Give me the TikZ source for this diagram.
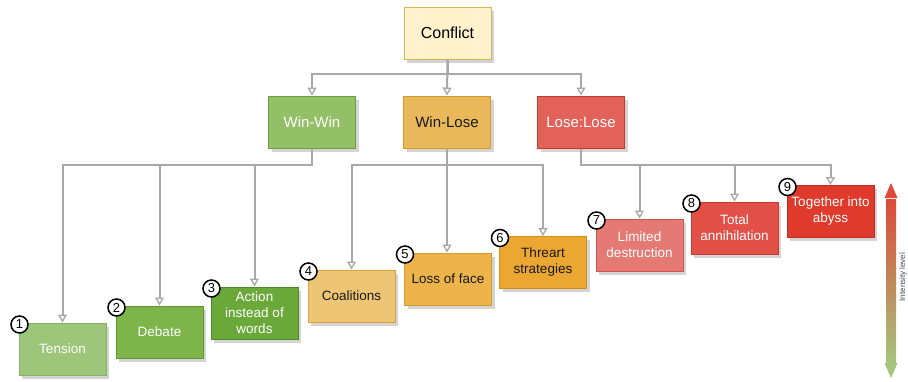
\documentclass[tikz,border=0pt]{standalone}
\usepackage{fontspec}
\setmainfont{Liberation Sans}
\usetikzlibrary{arrows.meta,calc}
\definecolor{cfF}{HTML}{FFF2CC}\definecolor{cfD}{HTML}{D6B656}
\definecolor{wwF}{HTML}{93BF66}\definecolor{wwD}{HTML}{6D9E3F}
\definecolor{wlF}{HTML}{E9B85A}\definecolor{wlD}{HTML}{D49A2E}
\definecolor{llF}{HTML}{E2625A}\definecolor{llD}{HTML}{C0392B}
\definecolor{aF}{HTML}{9DC67A}\definecolor{aD}{HTML}{82B366}
\definecolor{bF}{HTML}{7DB54A}\definecolor{bD}{HTML}{5F9630}
\definecolor{cF}{HTML}{6AA83A}\definecolor{cD}{HTML}{4D8A2A}
\definecolor{dF}{HTML}{EDC575}\definecolor{dD}{HTML}{D9A441}
\definecolor{eF}{HTML}{ECB44A}\definecolor{eD}{HTML}{D49A2E}
\definecolor{fF}{HTML}{EBA732}\definecolor{fD}{HTML}{D28E1C}
\definecolor{gF}{HTML}{E57A75}\definecolor{gD}{HTML}{D05550}
\definecolor{hF}{HTML}{E25048}\definecolor{hD}{HTML}{C83A32}
\definecolor{iF}{HTML}{DF3A2C}\definecolor{iD}{HTML}{C42A1F}
\definecolor{lnC}{HTML}{A8A8A8}
\definecolor{shC}{HTML}{D4D4D4}
\definecolor{barTop}{HTML}{DD4A38}\definecolor{barBot}{HTML}{A5C47E}
\begin{document}
\begin{tikzpicture}[x=1pt,y=-1pt,
  box/.style={draw, line width=1pt, minimum width=87pt, minimum height=52pt,
    inner sep=0pt, align=center, font=\fontsize{13.5}{16}\selectfont},
  midbox/.style={box, font=\fontsize{15}{17}\selectfont},
  shadowbox/.style={fill=shC, draw=none, minimum width=87pt, minimum height=52pt, inner sep=0pt},
  conn/.style={draw=lnC, line width=2pt, -{Triangle[open, length=8pt, width=9pt, line width=1.3pt]}},
  numc/.style={circle, draw=black, line width=1.5pt, fill=white, minimum size=17pt,
    inner sep=0pt, font=\fontsize{13}{13}\selectfont}]
\useasboundingbox (0,0) rectangle (908,381);

% shadows (drawn first, behind the boxes)
\foreach \p [count=\k] in {(450.5,36.5),(315,125.5),(450,125.5),(584,125.5),
  (65.5,352.5),(162.5,335.5),(257.5,316.5),(354.5,299.5),(451,282.5),(546,266),
  (642.5,248.5),(737.5,231.5),(833.5,215)}{
  \node[shadowbox] (s\k) at \p {};
}

\node[box, fill=cfF, draw=cfD, font=\fontsize{16}{18}\selectfont] (conflict) at (447.5,33) {Conflict};

\node[midbox, fill=wwF, draw=wwD, text=white] (ww) at (312,122) {Win-Win};
\node[midbox, fill=wlF, draw=wlD, text=black!90] (wl) at (447,122) {Win-Lose};
\node[midbox, fill=llF, draw=llD, text=white] (ll) at (581,122) {Lose:Lose};

\node[box, fill=aF, draw=aD, text=white] (t1) at (62.5,349) {Tension};
\node[box, fill=bF, draw=bD, text=white] (t2) at (159.5,332) {Debate};
\node[box, fill=cF, draw=cD, text=white] (t3) at (254.5,313) {Action\\instead of\\words};
\node[box, fill=dF, draw=dD, text=black!90] (t4) at (351.5,296) {Coalitions};
\node[box, fill=eF, draw=eD, text=black!90] (t5) at (448,279) {Loss of face};
\node[box, fill=fF, draw=fD, text=black!90] (t6) at (543,262.5) {Threart\\strategies};
\node[box, fill=gF, draw=gD, text=white] (t7) at (639.5,245) {Limited\\destruction};
\node[box, fill=hF, draw=hD, text=white] (t8) at (734.5,228) {Total\\annihilation};
\node[box, fill=iF, draw=iD, text=white] (t9) at (830.5,211.5) {Together into\\abyss};

\draw[conn] (conflict.south) -- ++(0,14) -| (ww.north);
\draw[conn] (conflict.south) -- (wl.north);
\draw[conn] (conflict.south) -- ++(0,14) -| (ll.north);

\draw[conn] (ww.south) -- ++(0,16) -| (t1.north);
\draw[conn] (ww.south) -- ++(0,16) -| (t2.north);
\draw[conn] (ww.south) -- ++(0,16) -| (t3.north);
\draw[conn] (wl.south) -- ++(0,16) -| (t4.north);
\draw[conn] (wl.south) -- (t5.north -| wl.south);
\draw[conn] (wl.south) -- ++(0,16) -| (t6.north);
\draw[conn] (ll.south) -- ++(0,16) -| (t7.north);
\draw[conn] (ll.south) -- ++(0,16) -| (t8.north);
\draw[conn] (ll.south) -- ++(0,16) -| (t9.north);

\foreach \n in {1,...,9}{
  \node[numc] (n\n) at ($(t\n.north west)+(1,2)$) {\n};
}

\shade[top color=barTop, bottom color=barBot] (886,199) rectangle (896,362);
\fill[barTop] (884.5,198) -- (891,183) -- (897.5,198) -- cycle;
\fill[barBot] (884.5,363) -- (891,378) -- (897.5,363) -- cycle;
\node[rotate=90, font=\fontsize{8}{9}\selectfont, text=black!70] (lbl) at (903,277) {Intensity level};
\end{tikzpicture}
\end{document}
